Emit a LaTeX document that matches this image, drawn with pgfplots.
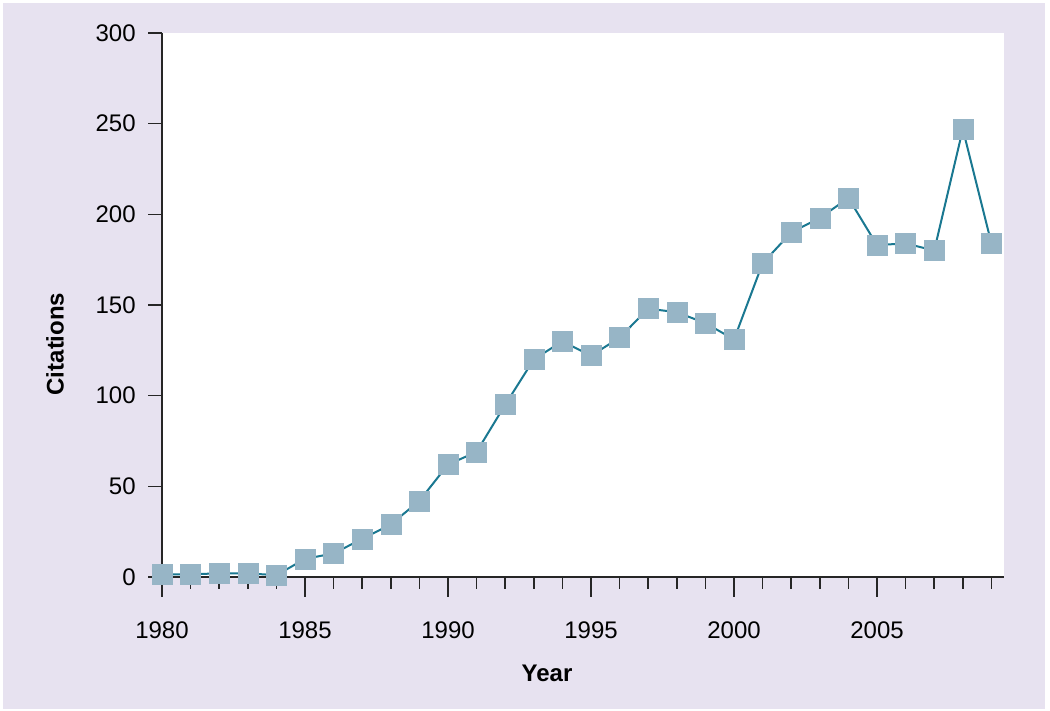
\documentclass[border=0pt]{standalone}
\usepackage{fontspec}
\setmainfont{Liberation Sans}
\usepackage{pgfplots}
\pgfplotsset{compat=1.18}
\definecolor{bgl}{HTML}{E7E2F0}
\definecolor{mk}{HTML}{97B5C6}
\definecolor{ln}{HTML}{1A7891}
\pgfplotstableread{
year cit
1980 1.5
1981 1.5
1982 2
1983 2
1984 1
1985 10
1986 13
1987 21
1988 29
1989 42
1990 62
1991 69
1992 95
1993 120
1994 130
1995 122
1996 132
1997 148
1998 146
1999 140
2000 131
2001 173
2002 190
2003 198
2004 209
2005 183
2006 184
2007 180
2008 247
2009 184
}\citetab
\begin{document}
\begin{tikzpicture}
\useasboundingbox (0,0) rectangle (525bp,355.5bp);
\fill[white] (0,0) rectangle (525bp,355.5bp);
\fill[bgl] (1.5bp,1bp) rectangle (522.5bp,354bp);
\begin{axis}[
  at={(81bp,67bp)}, anchor=south west, scale only axis,
  width=421bp, height=272bp,
  xmin=1980, xmax=2009.44, ymin=0, ymax=300,
  clip=false,
  axis x line*=bottom, axis y line*=left,
  axis line style={-, line width=0.75bp, black!85},
  axis background/.style={fill=white},
  every tick/.style={line width=0.75bp, black!85},
  tick align=outside,
  xtick={1980,1985,...,2005},
  minor xtick={1981,1982,...,2009},
  major tick length=10bp, minor tick length=6bp,
  ytick=\empty,
  extra y ticks={0,50,...,300},
  extra y tick style={major tick length=7bp},
  font=\fontsize{12bp}{14bp}\selectfont,
  /pgf/number format/assume math mode=true,
  xticklabel={\pgfmathprintnumber[1000 sep={}]{\tick}},
  extra y tick labels={0,50,100,150,200,250,300},
  xticklabel style={anchor=north, inner sep=0pt, yshift=-12bp},
  yticklabel style={anchor=east, inner sep=0pt, xshift=-6bp},
  xlabel={\textbf{Year}},
  ylabel={\textbf{Citations}},
  xlabel style={at={(axis description cs:0,0)}, anchor=center, xshift=192.5bp, yshift=-48bp, inner sep=0pt},
  ylabel style={at={(axis description cs:0,0)}, anchor=center, xshift=116.5bp, yshift=53.5bp, inner sep=0pt},
]
\addplot[ln, line width=1bp, mark=square*, mark size=5bp,
  mark options={fill=mk, draw=mk, line width=0.3bp}] table[x=year,y=cit] {\citetab};
\end{axis}
\end{tikzpicture}
\end{document}
